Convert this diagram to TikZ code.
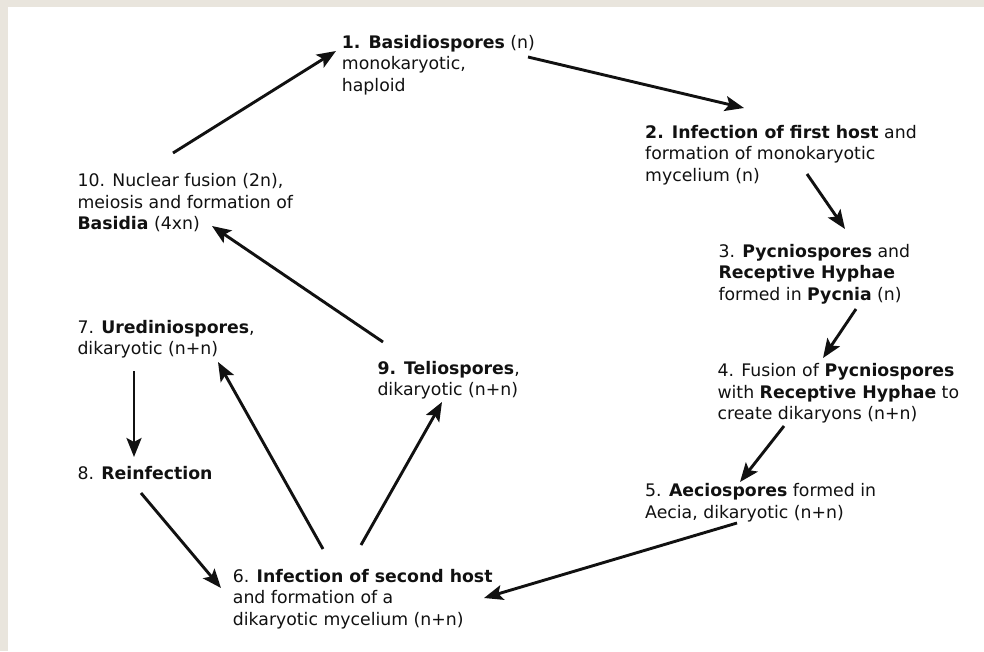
\documentclass[tikz,border=0pt]{standalone}
\usepackage{fontspec}
\setmainfont{DejaVu Sans}
\usetikzlibrary{arrows.meta}
\definecolor{bgc}{HTML}{E9E5DD}
\definecolor{ink}{HTML}{111111}
\newcommand\mylines[1]{\begin{tabular}[t]{@{}l@{}}#1\end{tabular}}
\tikzset{
  lbl/.style={anchor=base west, inner sep=0pt, text=ink, font=\fontsize{17.3}{21.6}\selectfont},
  arr/.style={draw=ink, line width=2.9pt, -{Stealth[length=19pt,width=15pt,inset=4pt]}}
}
\begin{document}
\begin{tikzpicture}[x=1pt,y=-1pt]
\useasboundingbox (0,0) rectangle (984,651);
\fill[bgc] (0,0) rectangle (984,651);
\fill[white] (8,7) rectangle (984,651);

\node[lbl] (n1) at (341.7,48.3) {\mylines{\textbf{1. Basidiospores} (n)\\ monokaryotic,\\ haploid}};
\node[lbl] (n2) at (645,138.3) {\mylines{\textbf{2. Infection of first host} and\\ formation of monokaryotic\\ mycelium (n)}};
\node[lbl] (n3) at (718.3,257.3) {\mylines{3. \textbf{Pycniospores} and\\ \textbf{Receptive Hyphae}\\ formed in \textbf{Pycnia} (n)}};
\node[lbl] (n4) at (717.3,376.7) {\mylines{4. Fusion of \textbf{Pycniospores}\\ with \textbf{Receptive Hyphae} to\\ create dikaryons (n+n)}};
\node[lbl] (n5) at (645,496.7) {\mylines{5. \textbf{Aeciospores} formed in\\ Aecia, dikaryotic (n+n)}};
\node[lbl] (n6) at (232.7,582.3) {\mylines{6. \textbf{Infection of second host}\\ and formation of a\\ dikaryotic mycelium (n+n)}};
\node[lbl] (n7) at (77.3,333.3) {\mylines{7. \textbf{Urediniospores},\\ dikaryotic (n+n)}};
\node[lbl] (n8) at (77.3,479.3) {8. \textbf{Reinfection}};
\node[lbl] (n9) at (377.3,374.3) {\mylines{\textbf{9. Teliospores},\\ dikaryotic (n+n)}};
\node[lbl] (n10) at (77.3,186.7) {\mylines{10. Nuclear fusion (2n),\\ meiosis and formation of\\ \textbf{Basidia} (4xn)}};

\coordinate (s10) at (173,153); \coordinate (e1) at (336,51);
\coordinate (s1) at (528,57);   \coordinate (e2) at (744,108);
\coordinate (s2) at (807,174);  \coordinate (e3) at (845,229);
\coordinate (s3) at (856,309);  \coordinate (e4) at (823,358);
\coordinate (s4) at (784,426);  \coordinate (e5) at (740,482);
\coordinate (s5) at (737,523);  \coordinate (e6a) at (484,598);
\coordinate (s7) at (134,371);  \coordinate (e8) at (134,457);
\coordinate (s8) at (141,493);  \coordinate (e6b) at (221,588);
\coordinate (s6a) at (323,549); \coordinate (e7) at (218,362);
\coordinate (s6b) at (361,545); \coordinate (e9) at (442,402);
\coordinate (s9) at (383,342);  \coordinate (e10) at (212,226);

\draw[arr] (s10) -- (e1);
\draw[arr] (s1) -- (e2);
\draw[arr] (s2) -- (e3);
\draw[arr] (s3) -- (e4);
\draw[arr] (s4) -- (e5);
\draw[arr] (s5) -- (e6a);
\draw[arr] (s7) -- (e8);
\draw[arr] (s8) -- (e6b);
\draw[arr] (s6a) -- (e7);
\draw[arr] (s6b) -- (e9);
\draw[arr] (s9) -- (e10);
\end{tikzpicture}
\end{document}
